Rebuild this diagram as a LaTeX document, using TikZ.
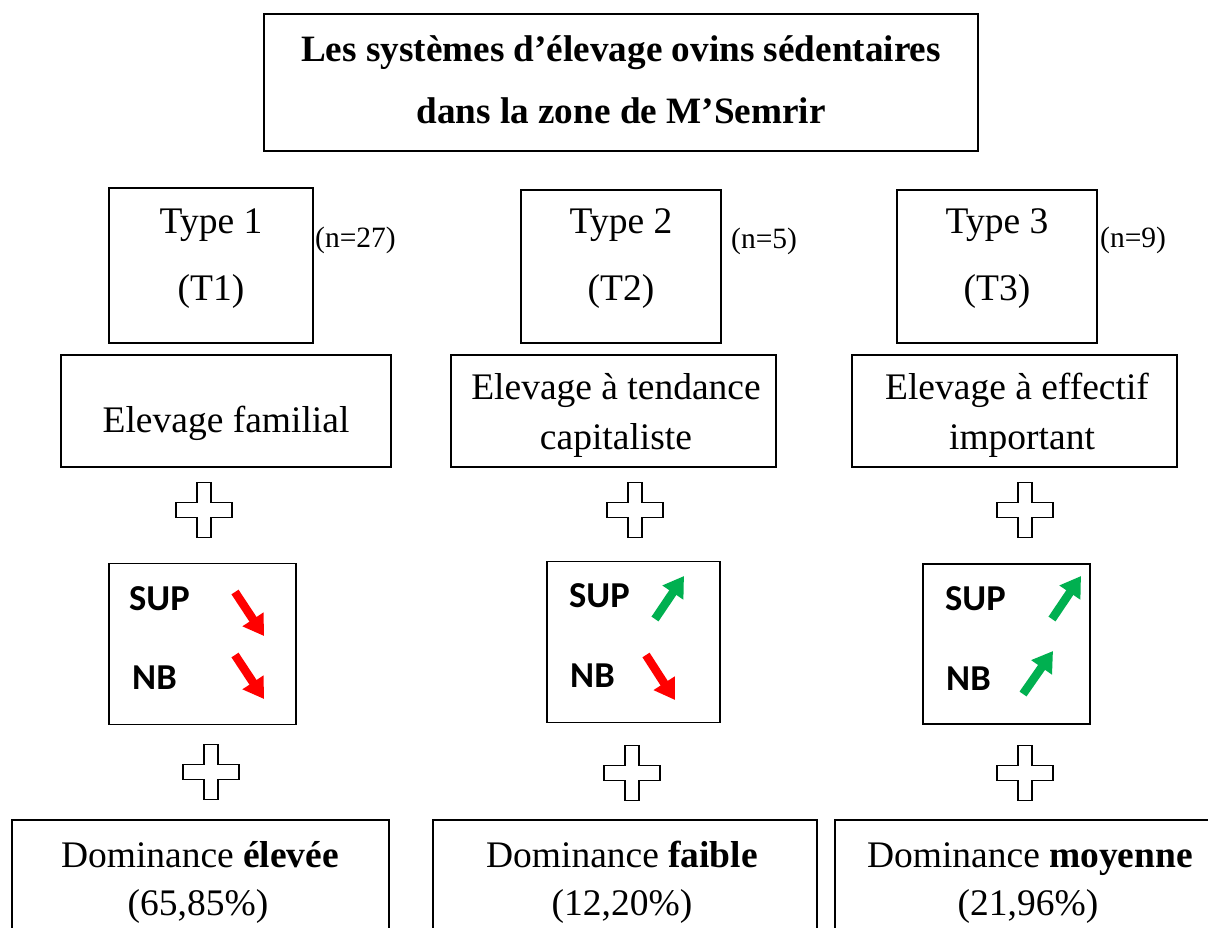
\documentclass[tikz,border=0pt]{standalone}
\usepackage{fontspec}
\setmainfont{Liberation Serif}
\newfontfamily\calib{Carlito}
\usetikzlibrary{arrows.meta}
\definecolor{arrred}{RGB}{255,0,0}
\definecolor{arrgreen}{RGB}{0,176,80}
\tikzset{
  box/.style={draw, line width=1.8pt, inner sep=0pt, rectangle},
  txt/.style={inner sep=0pt, anchor=base, font=\fontsize{37.5}{44}\selectfont},
  ttl/.style={inner sep=0pt, anchor=base, font=\fontsize{37.2}{44}\selectfont\bfseries},
  nlab/.style={inner sep=0pt, anchor=base west, font=\fontsize{29.5}{34}\selectfont},
  ind/.style={inner sep=0pt, anchor=base west, font=\fontsize{36.5}{42}\selectfont\calib\bfseries},
  redarrow/.style={draw=arrred, line width=8.5pt, -{Triangle[length=20pt,width=24pt]}},
  greenarrow/.style={draw=arrgreen, line width=8.5pt, -{Triangle[length=20pt,width=24pt]}},
  plussign/.pic={\draw[line width=1.6pt, fill=white]
     (-7,-27.5)--(7,-27.5)--(7,-7.5)--(28,-7.5)--(28,7.5)--(7,7.5)--(7,27.5)
     --(-7,27.5)--(-7,7.5)--(-28,7.5)--(-28,-7.5)--(-7,-7.5)--cycle;}
}
\begin{document}
\begin{tikzpicture}[x=1pt,y=-1pt]
\useasboundingbox (0,0) rectangle (1208,927);
\clip (0,0) rectangle (1208,927);
\fill[white] (0,0) rectangle (1208,927);

% title
\node[box, minimum width=714pt, minimum height=137pt] (title) at (621,82.5) {};
\node[ttl] (title1) at (621,61) {Les systèmes d’élevage ovins sédentaires};
\node[ttl] (title2) at (621,123) {dans la zone de M’Semrir};

% type boxes
\node[box, minimum width=204pt, minimum height=155pt] (t1) at (211,265.5) {};
\node[box, minimum width=200pt, minimum height=153pt] (t2) at (621,266.5) {};
\node[box, minimum width=200pt, minimum height=153pt] (t3) at (997,266.5) {};
\node[txt] (t1a) at (211,233) {Type 1};
\node[txt] (t1b) at (211,300) {(T1)};
\node[txt] (t2a) at (621,233) {Type 2};
\node[txt] (t2b) at (621,300) {(T2)};
\node[txt] (t3a) at (997,233) {Type 3};
\node[txt] (t3b) at (997,300) {(T3)};
\node[nlab] (n1) at (315,247) {(n=27)};
\node[nlab] (n2) at (731,248) {(n=5)};
\node[nlab] (n3) at (1100,247) {(n=9)};

% second row
\node[box, minimum width=330pt, minimum height=112pt] (e1) at (226,411) {};
\node[box, minimum width=325pt, minimum height=112pt] (e2) at (613.5,411) {};
\node[box, minimum width=325pt, minimum height=112pt] (e3) at (1014.5,411) {};
\node[txt] (e1a) at (226,432) {Elevage familial};
\node[txt] (e2a) at (616,399) {Elevage à tendance};
\node[txt] (e2b) at (616,449) {capitaliste};
\node[txt] (e3a) at (1017,399) {Elevage à effectif};
\node[txt] (e3b) at (1022,449) {important};

% plus signs row 1
\pic at (204,510) {plussign};
\pic at (635,510) {plussign};
\pic at (1025,510) {plussign};

% indicator boxes
\node[box, minimum width=187pt, minimum height=161pt] (s1) at (202.5,644) {};
\node[box, minimum width=173pt, minimum height=161pt] (s2) at (633.5,642) {};
\node[box, minimum width=167pt, minimum height=160pt] (s3) at (1006.5,644) {};
\node[ind] (s1a) at (129,610) {SUP};
\node[ind] (s1b) at (132,689) {NB};
\node[ind] (s2a) at (569,607) {SUP};
\node[ind] (s2b) at (570,687) {NB};
\node[ind] (s3a) at (945,610) {SUP};
\node[ind] (s3b) at (946,690) {NB};

\coordinate (a1s) at (235,592); \coordinate (a1e) at (264,636);
\coordinate (a2s) at (235,655); \coordinate (a2e) at (264,699);
\coordinate (a3s) at (655,619); \coordinate (a3e) at (684,576);
\coordinate (a4s) at (646,655); \coordinate (a4e) at (675,700);
\coordinate (a5s) at (1052,619); \coordinate (a5e) at (1081,576);
\coordinate (a6s) at (1023,694); \coordinate (a6e) at (1053,651);
\draw[redarrow] (a1s) -- (a1e);
\draw[redarrow] (a2s) -- (a2e);
\draw[greenarrow] (a3s) -- (a3e);
\draw[redarrow] (a4s) -- (a4e);
\draw[greenarrow] (a5s) -- (a5e);
\draw[greenarrow] (a6s) -- (a6e);

% plus signs row 2
\pic at (211,772) {plussign};
\pic at (632,773) {plussign};
\pic at (1025,773) {plussign};

% bottom boxes
\node[box, minimum width=377pt, minimum height=140pt] (d1) at (200.5,890) {};
\node[box, minimum width=384pt, minimum height=140pt] (d2) at (625,890) {};
\node[box, minimum width=390pt, minimum height=140pt] (d3) at (1030,890) {};
\node[txt] (d1a) at (200,867) {Dominance \textbf{élevée}};
\node[txt] (d1b) at (198,915) {(65,85\%)};
\node[txt] (d2a) at (622,867) {Dominance \textbf{faible}};
\node[txt] (d2b) at (622,915) {(12,20\%)};
\node[txt] (d3a) at (1030,867) {Dominance \textbf{moyenne}};
\node[txt] (d3b) at (1028,915) {(21,96\%)};
\end{tikzpicture}
\end{document}
